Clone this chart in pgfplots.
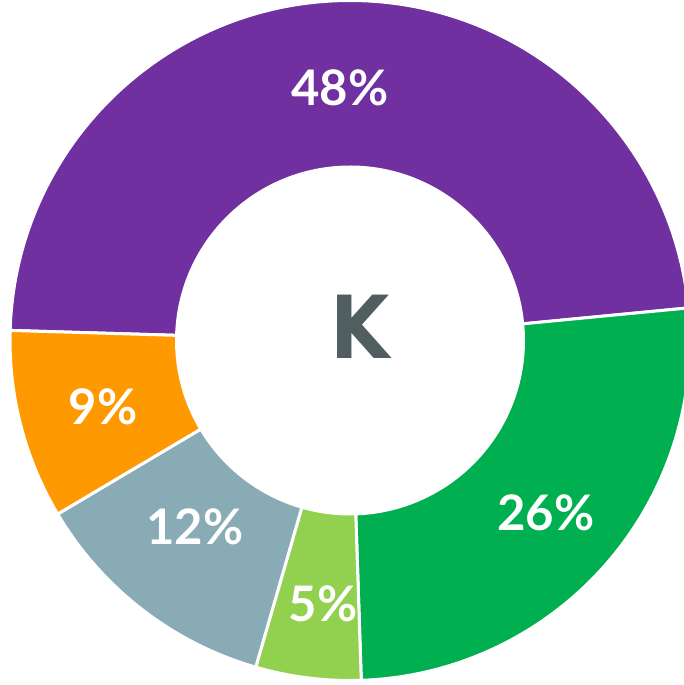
\documentclass[border=0pt]{standalone}
\usepackage{fontspec}
\setmainfont{Lato}
\newfontfamily\kfont{DejaVu Sans}[FakeStretch=0.88]
\usepackage{pgfplots}
\usepackage{pgfplotstable}
\pgfplotsset{compat=1.18}
\definecolor{cPurple}{HTML}{7030A0}
\definecolor{cGreen}{HTML}{00B050}
\definecolor{cLightGreen}{HTML}{92D050}
\definecolor{cGrey}{HTML}{88ABB6}
\definecolor{cOrange}{HTML}{FF9900}
\definecolor{cK}{HTML}{505E5F}

% value = share in percent; lx, ly = label position (axis units)
\pgfplotstableread{
name value color lx ly
Purple 48 cPurple 340 597
Green 26 cGreen 546 172
LightGreen 5 cLightGreen 323 81
Grey 12 cGrey 195 158
Orange 9 cOrange 103 278
}\donutdata

\begin{document}
\begin{tikzpicture}
\pgfmathsetmacro\cur{178.3}
\pgfplotsforeachungrouped \i in {0,...,4}{%
 \pgfplotstablegetelem{\i}{value}\of\donutdata
 \let\v\pgfplotsretval
 \pgfmathsetmacro\ea{\cur-3.6*\v}%
 \expandafter\xdef\csname sa\i\endcsname{\cur}%
 \expandafter\xdef\csname ea\i\endcsname{\ea}%
 \expandafter\xdef\csname va\i\endcsname{\v}%
 \pgfplotstablegetelem{\i}{color}\of\donutdata
 \expandafter\xdef\csname co\i\endcsname{\pgfplotsretval}%
 \pgfplotstablegetelem{\i}{lx}\of\donutdata
 \expandafter\xdef\csname lx\i\endcsname{\pgfplotsretval}%
 \pgfplotstablegetelem{\i}{ly}\of\donutdata
 \expandafter\xdef\csname ly\i\endcsname{\pgfplotsretval}%
 \global\let\cur\ea
}
\begin{axis}[width=684pt,height=685pt,scale only axis,
  xmin=0,xmax=684,ymin=0,ymax=685,
  axis lines=none,ticks=none,clip bounding box=upper bound]
\pgfplotsinvokeforeach{0,...,4}{
 \edef\temp{\noexpand\fill[fill=\csname co#1\endcsname,draw=white,line width=3pt]
  (axis cs:350,344.5) ++(\csname sa#1\endcsname:340pt)
  arc[start angle=\csname sa#1\endcsname,end angle=\csname ea#1\endcsname,radius=340pt]
  -- ++(\csname ea#1\endcsname:-166.5pt)
  arc[start angle=\csname ea#1\endcsname,end angle=\csname sa#1\endcsname,radius=173.5pt]
  -- cycle;}
 \temp
}
\pgfplotsinvokeforeach{0,...,4}{
 \edef\temp{\noexpand\node[text=white,font=\noexpand\bfseries\noexpand\fontsize{49}{56}\noexpand\selectfont]
   at (axis cs:\csname lx#1\endcsname,\csname ly#1\endcsname)
   {\csname va#1\endcsname\noexpand\%};}
 \temp
}
\node[text=cK,font=\kfont\bfseries\fontsize{87}{90}\selectfont] at (axis cs:360,358.5) {K};
\end{axis}
\pgfresetboundingbox
\useasboundingbox (current axis.south west) rectangle (current axis.north east);
\end{tikzpicture}
\end{document}
